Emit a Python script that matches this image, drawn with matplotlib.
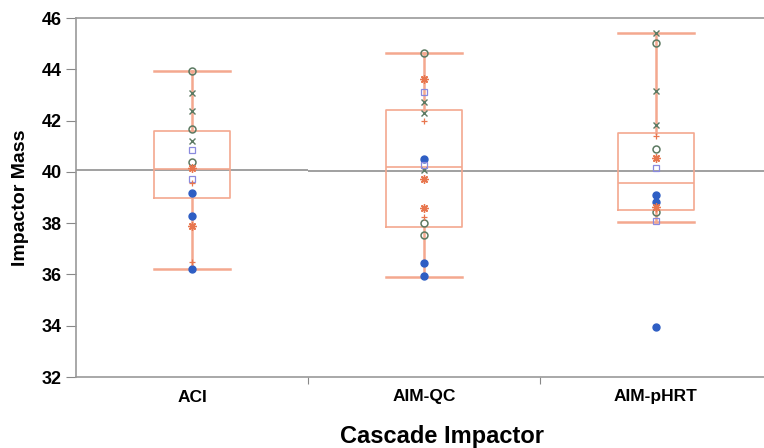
import matplotlib
matplotlib.use("Agg")
import matplotlib.pyplot as plt

plt.rcParams['font.family'] = ['Liberation Sans', 'DejaVu Sans']

groups = ["ACI", "AIM-QC", "AIM-pHRT"]

# box summaries
q1 = [38.98, 37.85, 38.51]
med = [40.10, 40.19, 39.56]
q3 = [41.59, 42.41, 41.51]
whis_lo = [36.21, 35.90, 38.04]
whis_hi = [43.93, 44.63, 45.40]
group_mean = [40.08, 40.04, 40.04]

# individual results per group, one list per marker type
blue_dot = [[39.16, 38.29, 36.21], [40.50, 36.46, 35.94], [39.10, 38.81, 33.96]]
green_circle = [[43.94, 41.66, 40.40], [44.65, 38.02, 37.54], [45.01, 40.88, 38.45]]
green_x = [[43.06, 42.38, 41.20], [42.74, 42.31, 40.07], [45.43, 43.15, 41.83]]
blue_square = [[40.85, 39.71], [43.10, 40.27], [40.14, 38.08]]
orange_star = [[40.14, 37.90], [43.61, 39.71, 38.58], [40.53, 38.64]]
orange_plus = [[39.55, 36.47], [42.00, 38.25], [41.40, 38.55]]

box_col = '#F4A88F'
fig = plt.figure(figsize=(7.64, 4.48), dpi=100)
ax = fig.add_axes([76 / 764, 1 - 377 / 448, 696 / 764, 359 / 448])

pos = [0.5, 1.5, 2.5]
stats = []
for i in range(3):
    stats.append(dict(med=med[i], q1=q1[i], q3=q3[i], whislo=whis_lo[i],
                      whishi=whis_hi[i], fliers=[]))
ax.bxp(stats, positions=pos, widths=0.33, capwidths=0.33, showfliers=False,
       boxprops=dict(color=box_col, lw=1.2),
       whiskerprops=dict(color=box_col, lw=1.8),
       capprops=dict(color=box_col, lw=1.8),
       medianprops=dict(color=box_col, lw=1.2))

for i in range(3):
    ax.hlines(group_mean[i], i, i + 1, color='#999999', lw=1.3, zorder=1)

series = [
    (blue_dot, dict(marker='o', color='#2E5EC4', ms=5, ls='none')),
    (green_circle, dict(marker='o', mfc='none', mec='#5C7A62', mew=1.1, ms=5, ls='none')),
    (green_x, dict(marker='x', color='#5C7A62', mew=1.0, ms=5, ls='none')),
    (blue_square, dict(marker='s', mfc='none', mec='#8A8ADE', mew=0.9, ms=4, ls='none')),
    (orange_star, dict(marker=(8, 2, 0), color='#E8764E', mew=1.0, ms=6, ls='none')),
    (orange_plus, dict(marker='+', color='#E8764E', mew=0.9, ms=5, ls='none')),
]
for vals, style in series:
    for i in range(3):
        ax.plot([pos[i]] * len(vals[i]), vals[i], zorder=3, **style)

ax.set_xlim(0, 3)
ax.set_ylim(32, 46)
ax.set_yticks(range(32, 47, 2))
ax.set_xticks([1, 2])
ax.set_xticklabels([])
ax.set_xticks(pos, minor=True)
ax.set_xticklabels(groups, minor=True, fontsize=12.5, fontweight='bold')
ax.tick_params(axis='x', which='minor', length=0, pad=9)
ax.tick_params(axis='x', which='major', length=5, color='#888888')
ax.tick_params(axis='y', length=7, color='#888888', labelsize=13, pad=3)
for lab in ax.get_yticklabels():
    lab.set_fontweight('bold')

for s in ['left', 'bottom', 'top']:
    ax.spines[s].set_color('#999999')
    ax.spines[s].set_linewidth(1.2)
ax.spines['right'].set_visible(False)

ax.set_ylabel('Impactor Mass', fontsize=14, fontweight='bold', labelpad=9)
fig.text(442 / 764, 1 - 443 / 448, 'Cascade Impactor', fontsize=17, fontweight='bold',
         ha='center', va='baseline')

fig.savefig('out.png', dpi=100)
